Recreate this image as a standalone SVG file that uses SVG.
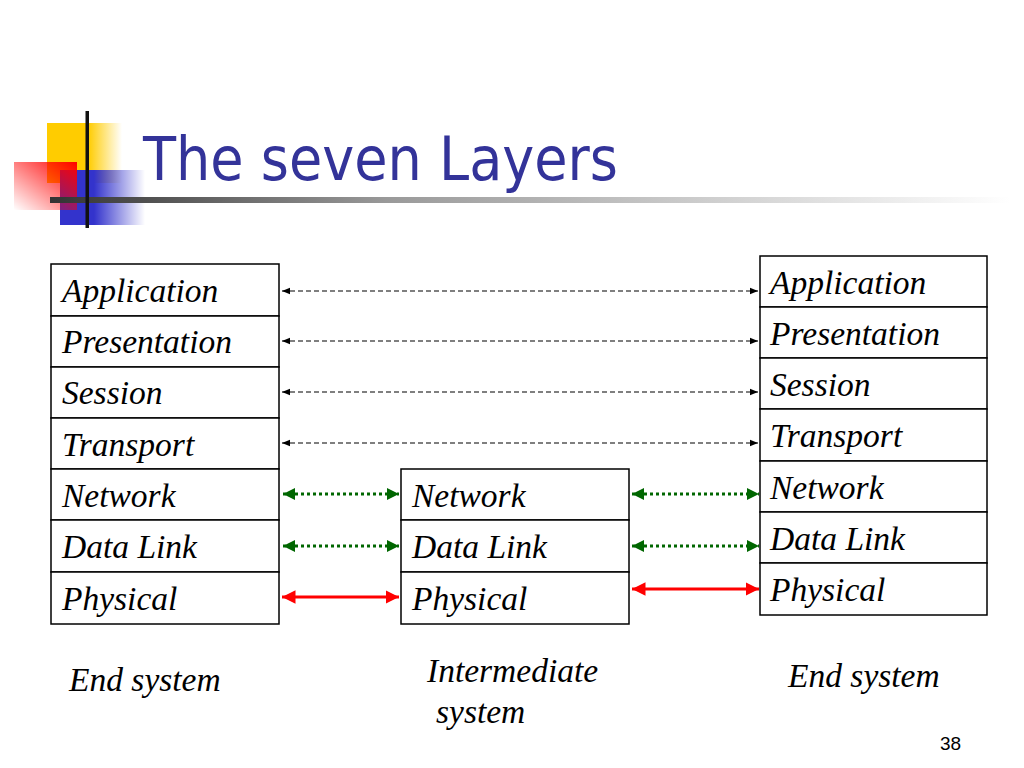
<svg xmlns="http://www.w3.org/2000/svg" width="1024" height="768" viewBox="0 0 1024 768">
<defs>
<linearGradient id="gy" x1="0" y1="0" x2="1" y2="0"><stop offset="0" stop-color="#ffcc00"/><stop offset="0.55" stop-color="#ffcc00"/><stop offset="1" stop-color="#ffcc00" stop-opacity="0"/></linearGradient>
<linearGradient id="gb" x1="0" y1="0" x2="1" y2="0"><stop offset="0" stop-color="#3333cc"/><stop offset="0.4" stop-color="#3333cc"/><stop offset="1" stop-color="#3333cc" stop-opacity="0"/></linearGradient>
<linearGradient id="gr" x1="1" y1="0" x2="0" y2="1"><stop offset="0" stop-color="#ff0000"/><stop offset="1" stop-color="#ff0000" stop-opacity="0"/></linearGradient>
<linearGradient id="gl" x1="0" y1="0" x2="1" y2="0"><stop offset="0" stop-color="#333333"/><stop offset="0.35" stop-color="#999999"/><stop offset="1" stop-color="#ffffff"/></linearGradient>
<marker id="ad" viewBox="0 0 10 10" refX="10" refY="5" markerWidth="8" markerHeight="8" markerUnits="userSpaceOnUse" orient="auto-start-reverse"><path d="M0,1 L10,5 L0,9 Z" fill="#000"/></marker>
<marker id="ag" viewBox="0 0 10 10" refX="10" refY="5" markerWidth="4" markerHeight="4" orient="auto-start-reverse"><path d="M0,0 L10,5 L0,10 Z" fill="#006600"/></marker>
<marker id="ar" viewBox="0 0 10 10" refX="10" refY="5" markerWidth="4.5" markerHeight="4.5" orient="auto-start-reverse"><path d="M0,0 L10,5 L0,10 Z" fill="#ff0000"/></marker>
</defs>
<style>
.box{fill:#fff;stroke:#000;stroke-width:1.5}
.lt{font-family:"Liberation Serif","Times New Roman",serif;font-style:italic;font-size:33.5px;fill:#000}
.dash{stroke:#000;stroke-width:1.2;stroke-dasharray:5 3;fill:none}
.dot{stroke:#006600;stroke-width:3;stroke-dasharray:3 3;fill:none}
.red{stroke:#ff0000;stroke-width:3;fill:none}
</style>
<rect width="1024" height="768" fill="#fff"/>
<g id="logo">
<rect x="47" y="123" width="75" height="60" fill="url(#gy)"/>
<rect x="60" y="170" width="85" height="55" fill="url(#gb)"/>
<rect x="14" y="162" width="63" height="48" fill="url(#gr)"/>
<rect x="50" y="197" width="960" height="6" fill="url(#gl)"/>
<rect x="85.5" y="111" width="3.5" height="117" fill="#111"/>
</g>
<text id="title" x="143" y="180" font-family="'DejaVu Sans Condensed','DejaVu Sans',Tahoma,sans-serif" font-stretch="condensed" font-size="60" textLength="475" lengthAdjust="spacingAndGlyphs" fill="#333399">The seven Layers</text>
<g id="left-system">
<rect class="box" x="51" y="264" width="228" height="52"/><text class="lt" x="62" y="302">Application</text>
<rect class="box" x="51" y="316" width="228" height="51"/><text class="lt" x="62" y="353">Presentation</text>
<rect class="box" x="51" y="367" width="228" height="51"/><text class="lt" x="62" y="404">Session</text>
<rect class="box" x="51" y="418" width="228" height="51"/><text class="lt" x="62" y="456">Transport</text>
<rect class="box" x="51" y="469" width="228" height="51"/><text class="lt" x="62" y="507">Network</text>
<rect class="box" x="51" y="520" width="228" height="52"/><text class="lt" x="62" y="558">Data Link</text>
<rect class="box" x="51" y="572" width="228" height="52"/><text class="lt" x="62" y="610">Physical</text>
</g>
<g id="intermediate-system">
<rect class="box" x="401" y="469" width="228" height="51"/><text class="lt" x="412" y="507">Network</text>
<rect class="box" x="401" y="520" width="228" height="52"/><text class="lt" x="412" y="558">Data Link</text>
<rect class="box" x="401" y="572" width="228" height="52"/><text class="lt" x="412" y="610">Physical</text>
</g>
<g id="right-system">
<rect class="box" x="760" y="256" width="227" height="51"/><text class="lt" x="770" y="294">Application</text>
<rect class="box" x="760" y="307" width="227" height="51"/><text class="lt" x="770" y="345">Presentation</text>
<rect class="box" x="760" y="358" width="227" height="51"/><text class="lt" x="770" y="396">Session</text>
<rect class="box" x="760" y="409" width="227" height="52"/><text class="lt" x="770" y="447">Transport</text>
<rect class="box" x="760" y="461" width="227" height="51"/><text class="lt" x="770" y="499">Network</text>
<rect class="box" x="760" y="512" width="227" height="51"/><text class="lt" x="770" y="550">Data Link</text>
<rect class="box" x="760" y="563" width="227" height="52"/><text class="lt" x="770" y="601">Physical</text>
</g>
<g id="connectors">
<line class="dash" x1="282" y1="291" x2="758" y2="291" marker-start="url(#ad)" marker-end="url(#ad)"/>
<line class="dash" x1="282" y1="341" x2="758" y2="341" marker-start="url(#ad)" marker-end="url(#ad)"/>
<line class="dash" x1="282" y1="392" x2="758" y2="392" marker-start="url(#ad)" marker-end="url(#ad)"/>
<line class="dash" x1="282" y1="443" x2="758" y2="443" marker-start="url(#ad)" marker-end="url(#ad)"/>
<line class="dot" x1="283" y1="494" x2="399" y2="494" marker-start="url(#ag)" marker-end="url(#ag)"/>
<line class="dot" x1="283" y1="546" x2="399" y2="546" marker-start="url(#ag)" marker-end="url(#ag)"/>
<line class="dot" x1="632" y1="494" x2="759" y2="494" marker-start="url(#ag)" marker-end="url(#ag)"/>
<line class="dot" x1="632" y1="546" x2="759" y2="546" marker-start="url(#ag)" marker-end="url(#ag)"/>
<line class="red" x1="282" y1="597" x2="399" y2="597" marker-start="url(#ar)" marker-end="url(#ar)"/>
<line class="red" x1="632" y1="589" x2="759" y2="589" marker-start="url(#ar)" marker-end="url(#ar)"/>
</g>
<g id="labels">
<text class="lt" x="69" y="691" font-size="31.5">End system</text>
<text class="lt" x="427" y="682" font-size="31.5">Intermediate</text>
<text class="lt" x="436" y="723" font-size="31.5">system</text>
<text class="lt" x="788" y="687" font-size="31.5">End system</text>
</g>
<text id="page" x="940" y="750" font-family="'Liberation Sans',Arial,sans-serif" font-size="19" fill="#000">38</text>
</svg>
